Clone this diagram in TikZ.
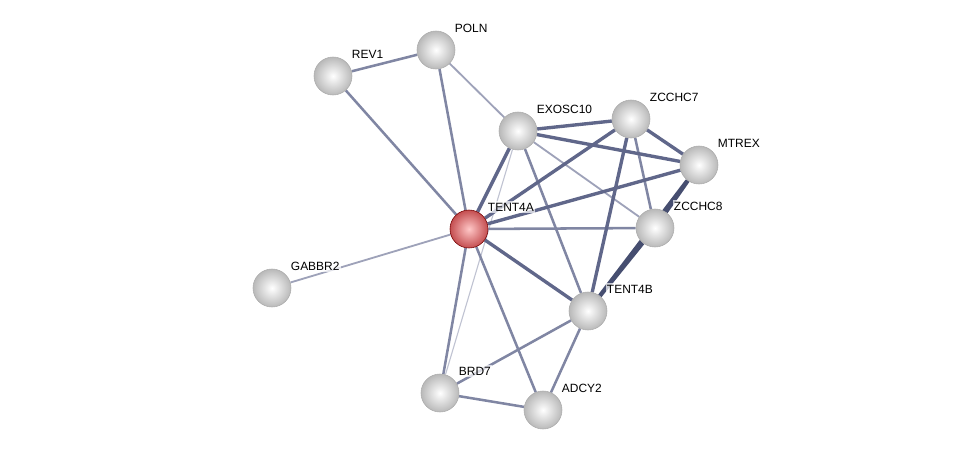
\documentclass[tikz,border=0pt]{standalone}
\usepackage{fontspec}
\setmainfont{Liberation Sans}
\usetikzlibrary{backgrounds}

\definecolor{edgefaint}{RGB}{192,195,210}
\definecolor{edgeweak}{RGB}{158,162,185}
\definecolor{edgemid}{RGB}{128,134,163}
\definecolor{edgestrong}{RGB}{96,103,138}
\definecolor{edgetop}{RGB}{70,78,112}
\definecolor{seedred}{RGB}{196,78,80}

\tikzset{
  prot/.style={circle,minimum size=0.95cm,inner sep=0pt,inner color=white,outer color=gray!55,draw=gray!65,line width=0.4pt},
  seed/.style={prot,inner color=red!22!white,outer color=seedred,draw=red!45!black},
  every label/.style={font=\fontsize{8.5}{10}\selectfont,inner sep=1pt,fill=white,fill opacity=0.7,text opacity=1,
    anchor=west,xshift=-0.05cm,yshift=0.55cm},
  faint/.style={draw=edgefaint,line width=0.8pt},
  weak/.style={draw=edgeweak,line width=1.3pt},
  mid/.style={draw=edgemid,line width=1.8pt},
  strong/.style={draw=edgestrong,line width=2.4pt},
  top/.style={draw=edgetop,line width=2.6pt}
}

\begin{document}
\begin{tikzpicture}[x=0.025cm,y=-0.025cm]
  \useasboundingbox (0,0) rectangle (975,456);

  \node[prot] (poln)    at (436,50)  [label=0:POLN] {};
  \node[prot] (rev1)    at (333,76)  [label=0:REV1] {};
  \node[prot] (exosc10) at (518,131) [label=0:EXOSC10] {};
  \node[prot] (zcchc7)  at (631,119) [label=0:ZCCHC7] {};
  \node[prot] (mtrex)   at (699,165) [label=0:MTREX] {};
  \node[prot] (zcchc8)  at (655,228) [label=0:ZCCHC8] {};
  \node[seed] (tent4a)  at (469,229) [label=0:TENT4A] {};
  \node[prot] (gabbr2)  at (272,288) [label=0:GABBR2] {};
  \node[prot] (tent4b)  at (588,311) [label=0:TENT4B] {};
  \node[prot] (brd7)    at (440,393) [label=0:BRD7] {};
  \node[prot] (adcy2)   at (543,410) [label=0:ADCY2] {};

  \begin{scope}[on background layer]
  \foreach \from/\to in {exosc10/brd7}
    \draw[faint] (\from) -- (\to);
  \foreach \from/\to in {poln/exosc10,exosc10/zcchc8,tent4a/gabbr2}
    \draw[weak] (\from) -- (\to);
  \foreach \from/\to in {rev1/tent4a,poln/tent4a,tent4a/brd7,tent4a/adcy2,tent4b/brd7,
                         tent4b/adcy2,brd7/adcy2,exosc10/tent4b,tent4a/zcchc8,zcchc7/zcchc8,rev1/poln}
    \draw[mid] (\from) -- (\to);
  \foreach \from/\to in {exosc10/zcchc7,exosc10/mtrex,exosc10/tent4a,zcchc7/tent4a,zcchc7/mtrex,
                         zcchc7/tent4b,mtrex/tent4a,tent4a/tent4b}
    \draw[strong] (\from) -- (\to);
  \foreach \from/\to in {mtrex/zcchc8,zcchc8/tent4b,mtrex/tent4b}
    \draw[top] (\from) -- (\to);
  \end{scope}

\end{tikzpicture}
\end{document}
